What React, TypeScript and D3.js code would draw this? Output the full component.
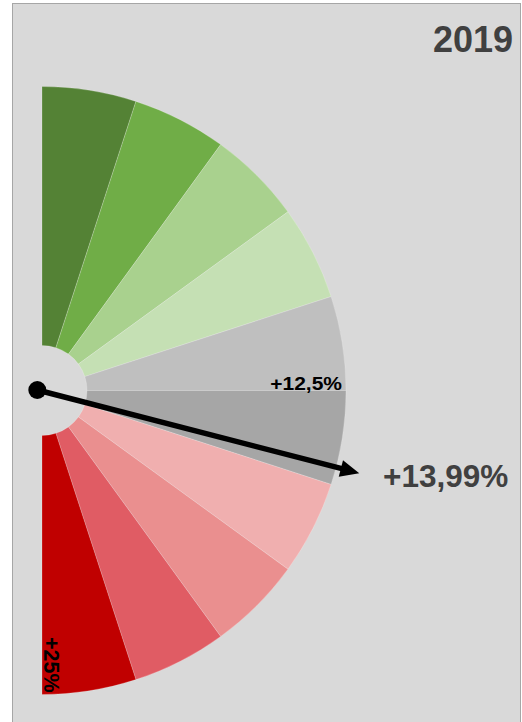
import React from "react";
import * as d3 from "d3";

const title = "2019";
const segmentValues = [1, 1, 1, 1, 1, 1, 1, 1, 1, 1];
const segmentColors = [
  "#548235", "#70AD47", "#A9D18E", "#C5E0B4", "#BFBFBF",
  "#A6A6A6", "#F0AFAF", "#EA8F8F", "#E05C64", "#C00000",
];
const scaleMin = 0;
const scaleMax = 25;
const midLabel = "+12,5%";
const maxLabel = "+25%";
const needleValue = 13.99;
const needleLabel = "+13,99%";

const W = 522;
const H = 722;

export default function App() {
  const cx = 42;
  const cy = 390.5;
  const rOuter = 304;
  const rInner = 45;

  const pie = d3.pie<number>().sort(null).startAngle(0).endAngle(Math.PI);
  const arcs = pie(segmentValues);
  const arcGen = d3.arc<d3.PieArcDatum<number>>().innerRadius(rInner).outerRadius(rOuter);

  const angle = d3.scaleLinear().domain([scaleMin, scaleMax]).range([0, Math.PI]);
  const theta = angle(needleValue);
  const ux = Math.sin(theta);
  const uy = -Math.cos(theta);
  // needle plotted on an xy overlay with unequal unit lengths
  const px = 37.3;
  const py = 390;
  const nx = d3.scaleLinear().domain([0, 1]).range([px, px + 327.7]);
  const ny = d3.scaleLinear().domain([0, 1]).range([py, py + 447]);
  const tipX = nx(ux);
  const tipY = ny(uy);
  const dirA = Math.atan2(tipY - py, tipX - px);
  const headLen = 19;
  const headHalf = 8.5;
  const baseX = tipX - headLen * Math.cos(dirA);
  const baseY = tipY - headLen * Math.sin(dirA);
  const perpX = -Math.sin(dirA);
  const perpY = Math.cos(dirA);
  const head = [
    [tipX, tipY],
    [baseX + perpX * headHalf, baseY + perpY * headHalf],
    [baseX - perpX * headHalf, baseY - perpY * headHalf],
  ];

  return (
    <svg
      width={W}
      height={H}
      style={{ position: "absolute", left: 0, top: 0, background: "#ffffff" }}
    >
      <rect x={12.5} y={3.5} width={508} height={H + 10} fill="#D9D9D9" stroke="#A6A6A6" strokeWidth={1} />
      <text
        x={513}
        y={52}
        textAnchor="end"
        fontFamily="'Liberation Sans', Arial, sans-serif"
        fontWeight="bold"
        fontSize={36}
        fill="#404040"
      >
        {title}
      </text>
      <g transform={`translate(${cx},${cy})`}>
        {arcs.map((a, i) => (
          <path
            key={i}
            d={arcGen(a) || ""}
            fill={segmentColors[i]}
            stroke="#ffffff"
            strokeOpacity={0.35}
            strokeWidth={0.6}
          />
        ))}
      </g>
      <text
        transform="translate(342,389.5) scale(1.2,1)"
        textAnchor="end"
        fontFamily="'Liberation Sans', Arial, sans-serif"
        fontWeight="bold"
        fontSize={17.5}
        fill="#000000"
      >
        {midLabel}
      </text>
      <text
        transform={`translate(44,637) rotate(90)`}
        textAnchor="start"
        fontFamily="'Liberation Sans', Arial, sans-serif"
        fontWeight="bold"
        fontSize={21.5}
        fill="#000000"
      >
        {maxLabel}
      </text>
      <line
        x1={px}
        y1={py}
        x2={baseX + 2 * Math.cos(dirA)}
        y2={baseY + 2 * Math.sin(dirA)}
        stroke="#000000"
        strokeWidth={5.5}
      />
      <polygon points={head.map((p) => p.join(",")).join(" ")} fill="#000000" />
      <circle cx={px} cy={py} r={9} fill="#000000" />
      <text
        x={383}
        y={487}
        textAnchor="start"
        fontFamily="'Liberation Sans', Arial, sans-serif"
        fontWeight="bold"
        fontSize={31.5}
        fill="#404040"
      >
        {needleLabel}
      </text>
    </svg>
  );
}
